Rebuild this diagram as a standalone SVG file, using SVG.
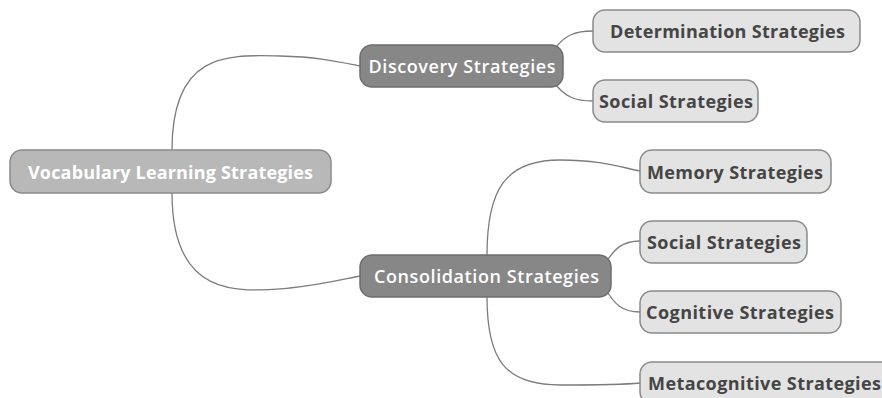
<svg xmlns="http://www.w3.org/2000/svg" width="882" height="398" viewBox="0 0 882 398">
<style>
.c{fill:none;stroke:#7c7c7c;stroke-width:1.3}
.root{fill:#b8b8b8;stroke:#8a8a8a;stroke-width:1.5}
.mid{fill:#878787;stroke:#6e6e6e;stroke-width:1.5}
.leaf{fill:#e3e3e3;stroke:#8a8a8a;stroke-width:1.5}
text{font-family:"Open Sans","DejaVu Sans",sans-serif;font-size:18px;font-weight:700;dominant-baseline:central;text-anchor:middle}
.w{fill:#ffffff;font-weight:600}
.r{font-weight:700}
.d{fill:#454545}
</style>
<rect width="882" height="398" fill="#ffffff"/>
<g id="connectors">
<path class="c" d="M172,150 C172,50 230,55 280,56 C320,57 340,62 360,66"/>
<path class="c" d="M172,193 C172,300 240,292 290,288 C320,285 340,280 360,276"/>
<path class="c" d="M556,47 C566,35 575,31 593,31"/>
<path class="c" d="M556,85 C566,97 575,101 593,101"/>
<path class="c" d="M487,255 C487,190 505,160 560,160 C600,160 620,167 640,171"/>
<path class="c" d="M487,297 C487,360 505,385 560,385 C600,385 620,385 640,383"/>
<path class="c" d="M605,264 C614,249 622,241 640,241"/>
<path class="c" d="M605,288 C614,304 622,312 640,312"/>
</g>
<g id="root"><rect class="root" x="10" y="150" width="321" height="43" rx="12"/><text class="w r" x="170.5" y="171.5" textLength="285" lengthAdjust="spacing">Vocabulary Learning Strategies</text></g>
<g id="discovery"><rect class="mid" x="360" y="45" width="203" height="42" rx="12"/><text class="w" x="462" y="66" textLength="187" lengthAdjust="spacing">Discovery Strategies</text></g>
<g id="consolidation"><rect class="mid" x="360" y="255" width="251" height="42" rx="12"/><text class="w" x="486.5" y="276" textLength="225" lengthAdjust="spacing">Consolidation Strategies</text></g>
<g id="determination"><rect class="leaf" x="593" y="10" width="267" height="42" rx="12"/><text class="d" x="727.5" y="31" textLength="235" lengthAdjust="spacing">Determination Strategies</text></g>
<g id="social1"><rect class="leaf" x="593" y="80" width="165" height="42" rx="12"/><text class="d" x="676" y="101" textLength="154" lengthAdjust="spacing">Social Strategies</text></g>
<g id="memory"><rect class="leaf" x="640" y="150" width="191" height="43" rx="12"/><text class="d" x="735" y="171.5" textLength="176" lengthAdjust="spacing">Memory Strategies</text></g>
<g id="social2"><rect class="leaf" x="640" y="221" width="167" height="42" rx="12"/><text class="d" x="724" y="242" textLength="154" lengthAdjust="spacing">Social Strategies</text></g>
<g id="cognitive"><rect class="leaf" x="640" y="291" width="201" height="42" rx="12"/><text class="d" x="740" y="312" textLength="188" lengthAdjust="spacing">Cognitive Strategies</text></g>
<g id="metacognitive"><rect class="leaf" x="640" y="362" width="262" height="42" rx="12"/><text class="d" x="764.5" y="383" textLength="233" lengthAdjust="spacing">Metacognitive Strategies</text></g>
</svg>
